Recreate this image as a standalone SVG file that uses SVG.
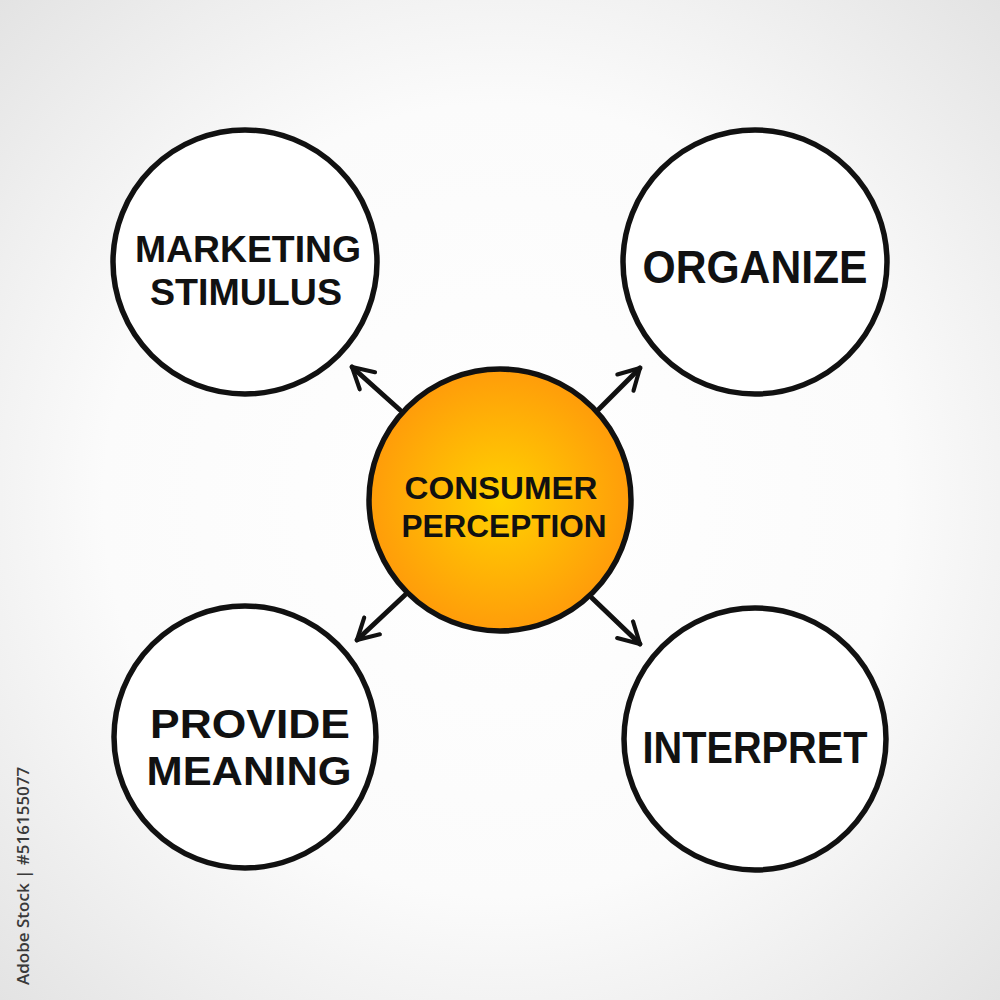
<svg xmlns="http://www.w3.org/2000/svg" width="1000" height="1000" viewBox="0 0 1000 1000">
<defs>
<radialGradient id="bg" cx="50%" cy="50%" r="72%">
<stop offset="0" stop-color="#ffffff"/>
<stop offset="0.55" stop-color="#fbfbfb"/>
<stop offset="1" stop-color="#e2e2e2"/>
</radialGradient>
<radialGradient id="orange" cx="50%" cy="50%" r="50%">
<stop offset="0" stop-color="#ffd200"/>
<stop offset="1" stop-color="#ff9c0a"/>
</radialGradient>
<marker id="ah" viewBox="0 0 12 12" refX="10" refY="6" markerWidth="5.5" markerHeight="5.5" orient="auto" markerUnits="strokeWidth">
<path d="M1,1 L10,6 L1,11" fill="none" stroke="#111" stroke-width="1.8" stroke-linecap="round" stroke-linejoin="round"/>
</marker>
</defs>
<style>
.c{fill:#fff;stroke:#111;stroke-width:5.5}
.t{font-family:"Liberation Sans",Arial,sans-serif;font-weight:bold;fill:#111;text-anchor:middle}
.a{fill:none;stroke:#111;stroke-width:5;stroke-linecap:round}
</style>
<rect width="1000" height="1000" fill="url(#bg)"/>
<g id="connectors">
<line class="a" x1="400" y1="410" x2="352" y2="367" marker-end="url(#ah)"/>
<line class="a" x1="598" y1="410" x2="640" y2="368" marker-end="url(#ah)"/>
<line class="a" x1="405" y1="595" x2="357" y2="640" marker-end="url(#ah)"/>
<line class="a" x1="592" y1="598" x2="640" y2="644" marker-end="url(#ah)"/>
</g>
<g id="marketing-stimulus">
<circle class="c" cx="245" cy="262" r="132"/>
<text class="t" x="248" y="262" font-size="36" textLength="226" lengthAdjust="spacingAndGlyphs">MARKETING</text>
<text class="t" x="246" y="305" font-size="36" textLength="192" lengthAdjust="spacingAndGlyphs">STIMULUS</text>
</g>
<g id="organize">
<circle class="c" cx="755" cy="262" r="132"/>
<text class="t" x="755" y="283" font-size="46" textLength="225" lengthAdjust="spacingAndGlyphs">ORGANIZE</text>
</g>
<g id="consumer-perception">
<circle cx="500" cy="500" r="131" fill="url(#orange)" stroke="#111" stroke-width="5.5"/>
<text class="t" x="501" y="499" font-size="32" textLength="193" lengthAdjust="spacingAndGlyphs">CONSUMER</text>
<text class="t" x="504" y="537" font-size="32" textLength="205" lengthAdjust="spacingAndGlyphs">PERCEPTION</text>
</g>
<g id="provide-meaning">
<circle class="c" cx="245" cy="737" r="131"/>
<text class="t" x="250" y="738" font-size="40" textLength="200" lengthAdjust="spacingAndGlyphs">PROVIDE</text>
<text class="t" x="249" y="785" font-size="40" textLength="205" lengthAdjust="spacingAndGlyphs">MEANING</text>
</g>
<g id="interpret">
<circle class="c" cx="755" cy="739" r="131"/>
<text class="t" x="755" y="763" font-size="44" textLength="225" lengthAdjust="spacingAndGlyphs">INTERPRET</text>
</g>
<text x="29" y="985" transform="rotate(-90 29 985)" font-family="'Open Sans','Liberation Sans',sans-serif" font-size="17" font-weight="600" fill="#3a3a3a">Adobe Stock | #516155077</text>
</svg>
